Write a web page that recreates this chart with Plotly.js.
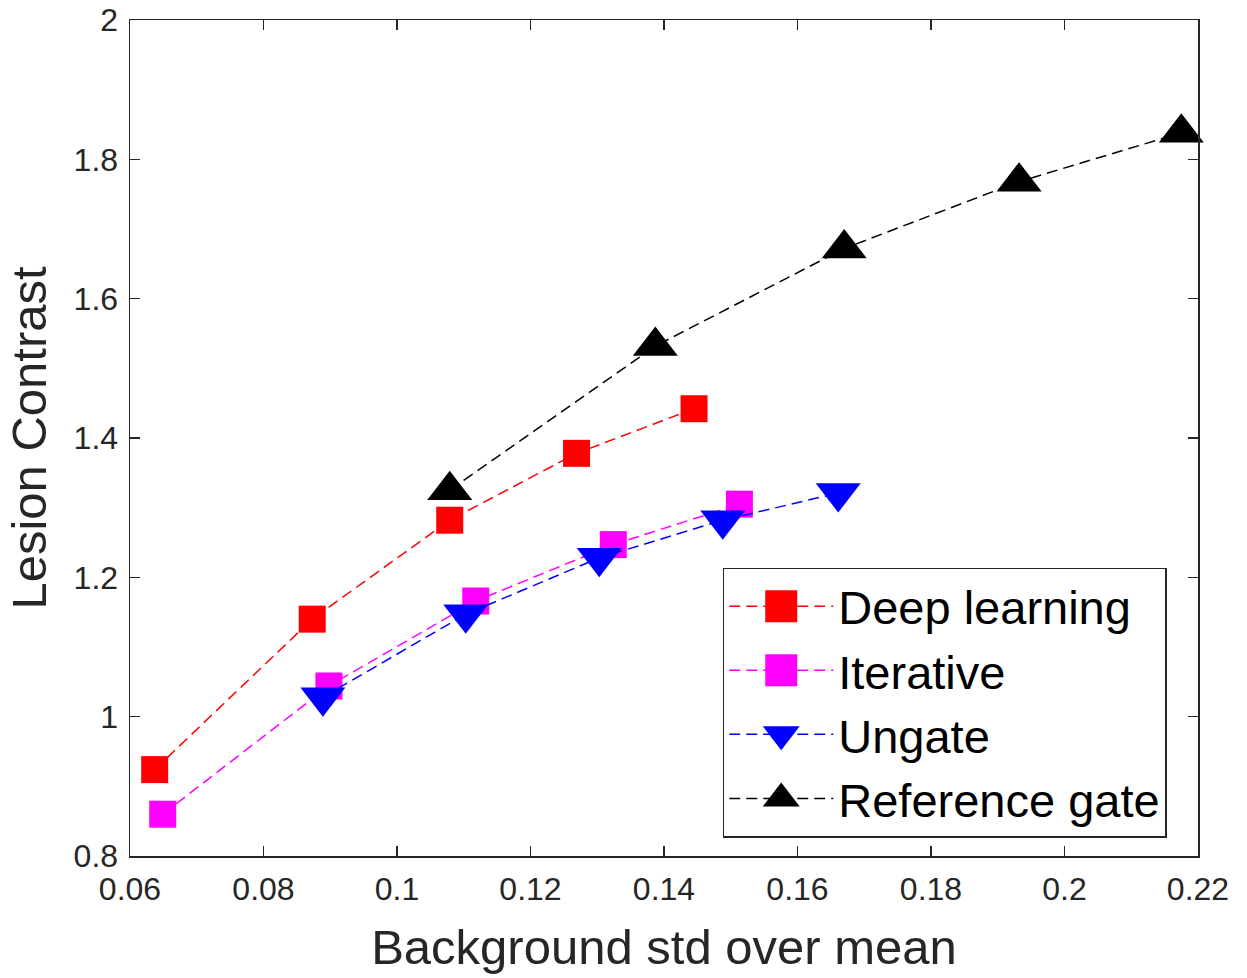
<!DOCTYPE html>
<html>
<head>
<meta charset="utf-8">
<script src="https://cdn.plot.ly/plotly-3.0.1.min.js"></script>
<style>html,body{margin:0;padding:0;background:#fff;}#chart{width:1247px;height:978px;}</style>
</head>
<body>
<div id="chart"></div>
<script>
// Data
var seriesNames = ["Deep learning", "Iterative", "Ungate", "Reference gate"];

var deepX = [0.0637, 0.0873, 0.1079, 0.1269, 0.1445];
var deepY = [0.924, 1.140, 1.282, 1.378, 1.442];

var iterX = [0.0649, 0.0898, 0.1118, 0.1324, 0.1513];
var iterY = [0.860, 1.044, 1.166, 1.247, 1.305];

var ungateX = [0.0889, 0.1103, 0.1303, 0.1488, 0.1661];
var ungateY = [1.028, 1.147, 1.228, 1.282, 1.321];

var refX = [0.1079, 0.1387, 0.1670, 0.1932, 0.2175];
var refY = [1.325, 1.532, 1.672, 1.768, 1.838];

var xTicks = [0.06, 0.08, 0.1, 0.12, 0.14, 0.16, 0.18, 0.2, 0.22];
var yTicks = [0.8, 1, 1.2, 1.4, 1.6, 1.8, 2];

var FONT = "Liberation Sans, Arial, Helvetica, sans-serif";

function mk(name, x, y, color, symbol, size) {
  return {
    type: "scatter", mode: "lines+markers", name: name, x: x, y: y,
    line: {color: color, width: 1.5, dash: "11px,6px"},
    marker: {color: color, symbol: symbol, size: size, line: {width: 0}},
    cliponaxis: false
  };
}

var traces = [
  mk(seriesNames[0], deepX, deepY, "#ff0000", "square", 27),
  mk(seriesNames[1], iterX, iterY, "#ff00ff", "square", 27),
  mk(seriesNames[2], ungateX, ungateY, "#0000ff", "triangle-down", 39),
  mk(seriesNames[3], refX, refY, "#000000", "triangle-up", 39)
];

var axisCommon = {
  showgrid: false, zeroline: false, showline: true, mirror: "allticks",
  linecolor: "#262626", linewidth: 1.5,
  ticks: "inside", ticklen: 10, tickwidth: 1.5, tickcolor: "#262626",
  tickfont: {family: FONT, size: 32, color: "#262626"}
};

var layout = {
  width: 1247, height: 978,
  paper_bgcolor: "#ffffff", plot_bgcolor: "#ffffff",
  margin: {l: 130, r: 49, t: 20, b: 122},
  showlegend: true,
  xaxis: Object.assign({}, axisCommon, {
    range: [0.06, 0.22], tickvals: xTicks, ticktext: xTicks.map(String),
    ticklabelstandoff: 4,
    title: {text: "Background std over mean", font: {family: FONT, size: 49, color: "#262626"}, standoff: 24}
  }),
  yaxis: Object.assign({}, axisCommon, {
    range: [0.8, 2], tickvals: yTicks, ticktext: yTicks.map(String),
    ticklabelstandoff: 4,
    title: {text: "Lesion Contrast", font: {family: FONT, size: 49, color: "#262626"}, standoff: 11}
  }),
  legend: {
    x: 0.555, y: 0.345, xanchor: "left", yanchor: "top",
    bgcolor: "#ffffff", bordercolor: "#262626", borderwidth: 1.5,
    font: {family: FONT, size: 47, color: "#000000"},
    itemwidth: 104, tracegroupgap: 0
  }
};

Plotly.newPlot("chart", traces, layout, {displayModeBar: false, staticPlot: true}).then(function (gd) {
  // enlarge legend symbols to match the plot markers
  var pts = gd.querySelectorAll(".legend .legendpoints path.scatterpts");
  pts.forEach(function (p) {
    var t = p.getAttribute("transform") || "";
    p.setAttribute("transform", t + " scale(2)");
  });
});
</script>
</body>
</html>
